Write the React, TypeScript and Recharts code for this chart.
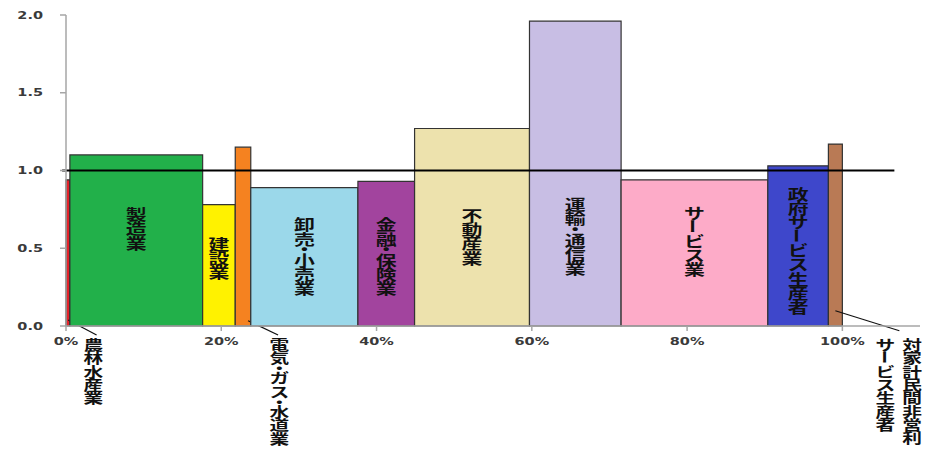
import { ComposedChart, XAxis, YAxis, Line, ReferenceArea, ReferenceLine } from 'recharts';

// industry names, output share (% of total, bar width) and ratio (bar height)
const categories = [
  '農林水産業',
  '製造業',
  '建設業',
  '電気・ガス・水道業',
  '卸売・小売業',
  '金融・保険業',
  '不動産業',
  '運輸・通信業',
  'サービス業',
  '政府サービス生産者',
  '対家計民間非営利サービス生産者',
];
const shares = [0.5, 17.1, 4.2, 2.0, 13.8, 7.3, 14.8, 11.8, 18.9, 7.8, 1.8];
const ratios = [0.94, 1.1, 0.78, 1.15, 0.89, 0.93, 1.27, 1.96, 0.94, 1.03, 1.17];
const colors = [
  '#e4232b', '#22b04a', '#fff200', '#f58220', '#9bd8ea', '#a2449e',
  '#ede2ad', '#c8bee4', '#fdabc8', '#3e47cb', '#b97a55',
];
// where the in-bar label is centred, in y units
const labelMid = [null, 0.63, 0.44, null, 0.45, 0.45, 0.58, 0.58, 0.55, 0.49, null];

const xTicks = [0, 20, 40, 60, 80, 100];
const yTicks = [0, 0.5, 1.0, 1.5, 2.0];

// labels drawn outside the narrow bars, offsets from the bar's bottom-right corner
const callouts: Record<number, { line: number[]; cols: { text: string; dx: number }[] }> = {
  0: { line: [-1.7, -6, 26.7, 9], cols: [{ text: '農林水産業', dx: 23.5 }] },
  3: { line: [-2.7, -5.3, 27.3, 9], cols: [{ text: '電気・ガス・水道業', dx: 28.5 }] },
  10: {
    line: [-7, -15.3, 57, 4.7],
    cols: [
      { text: '対家計民間非営利', dx: 69.7 },
      { text: 'サービス生産者', dx: 43 },
    ],
  },
};

let acc = 0;
const rows = categories.map((name, i) => {
  const start = acc;
  acc += shares[i];
  return { name, start, end: acc, value: ratios[i] };
});

const STRETCH = 1.45;
const FS = 14.4;
const JP_FONT = '"Noto Sans CJK JP", sans-serif';

const advance = (ch: string, size: number) => (ch === '・' ? size * 0.5 : size * 0.985);

// vertical text, one glyph per row; the long-vowel mark is turned upright
const VText = ({ x, top, text, size = FS }: { x: number; top: number; text: string; size?: number }) => {
  let y = 0;
  const chars = Array.from(text).map((ch, i) => {
    const adv = advance(ch, size);
    const cy = y + adv / 2;
    y += adv;
    return (
      <text
        key={i}
        x={0}
        y={cy}
        textAnchor="middle"
        dominantBaseline="central"
        transform={ch === 'ー' ? `rotate(90 0 ${cy})` : undefined}
      >
        {ch}
      </text>
    );
  });
  return (
    <g
      transform={`translate(${x},${top}) scale(${STRETCH},1)`}
      fontFamily={JP_FONT}
      fontWeight="bold"
      fontSize={size}
      fill="#111"
    >
      {chars}
    </g>
  );
};

const vHeight = (text: string, size = FS) => Array.from(text).reduce((s, ch) => s + advance(ch, size), 0);

const makeLabel = (i: number) => (props: any) => {
  const vb = props.viewBox;
  if (!vb) return null;
  const bottom = vb.y + vb.height;
  const right = vb.x + vb.width;
  const c = callouts[i];
  if (c) {
    const [x1, y1, x2, y2] = c.line;
    return (
      <g>
        <line x1={right + x1} y1={bottom + y1} x2={right + x2} y2={bottom + y2} stroke="#111" strokeWidth={1.2} />
        {c.cols.map((col) => (
          <VText key={col.text} x={right + col.dx} top={bottom + 11} text={col.text} size={13.6} />
        ))}
      </g>
    );
  }
  const mid = labelMid[i] ?? ratios[i] / 2;
  const cy = bottom - (mid * vb.height) / ratios[i];
  const h = vHeight(categories[i]);
  return <VText x={vb.x + vb.width / 2} top={cy - h / 2} text={categories[i]} />;
};

const XTick = ({ x, y, payload }: any) => (
  <g transform={`translate(${x},${y}) scale(${STRETCH},1)`}>
    <text x={0} y={0} dy="0.71em" textAnchor="middle" fontFamily="DejaVu Sans" fontWeight="bold" fontSize={10} fill="#3a3a3a">
      {`${payload.value}%`}
    </text>
  </g>
);

const YTick = ({ x, y, payload }: any) => (
  <g transform={`translate(${x},${y}) scale(${STRETCH},1)`}>
    <text x={0} y={0} dy="0.36em" textAnchor="end" fontFamily="DejaVu Sans" fontWeight="bold" fontSize={10} fill="#3a3a3a">
      {Number(payload.value).toFixed(1)}
    </text>
  </g>
);

const App = () => (
  <div style={{ position: 'absolute', left: 0, top: 0, width: 928, height: 453, background: '#fff' }}>
    <ComposedChart width={928} height={453} data={rows} margin={{ top: 15, right: 8, bottom: 0, left: 0 }}>
      <XAxis
        type="number"
        dataKey="start"
        domain={[0, 110]}
        ticks={xTicks}
        allowDataOverflow
        height={127}
        stroke="#a6a6a6"
        strokeWidth={1.5}
        tickSize={5}
        tickMargin={7}
        tick={<XTick />}
      />
      <YAxis
        type="number"
        dataKey="value"
        domain={[0, 2]}
        ticks={yTicks}
        allowDataOverflow
        width={66}
        stroke="#a6a6a6"
        strokeWidth={1.5}
        tickSize={6}
        tickMargin={17}
        tick={<YTick />}
      />
      {/* invisible series so both axes get a scale */}
      <Line dataKey="value" stroke="none" dot={false} activeDot={false} isAnimationActive={false} />
      {rows.map((r, i) => (
        <ReferenceArea
          key={r.name}
          x1={r.start}
          x2={r.end}
          y1={0}
          y2={r.value}
          fill={colors[i]}
          fillOpacity={1}
          stroke="#333"
          strokeWidth={1.2}
          ifOverflow="visible"
          label={makeLabel(i)}
        />
      ))}
      <ReferenceLine
        segment={[
          { x: -0.5, y: 1 },
          { x: 106.7, y: 1 },
        ]}
        ifOverflow="visible"
        stroke="#000"
        strokeWidth={2}
      />
    </ComposedChart>
  </div>
);

export default App;
